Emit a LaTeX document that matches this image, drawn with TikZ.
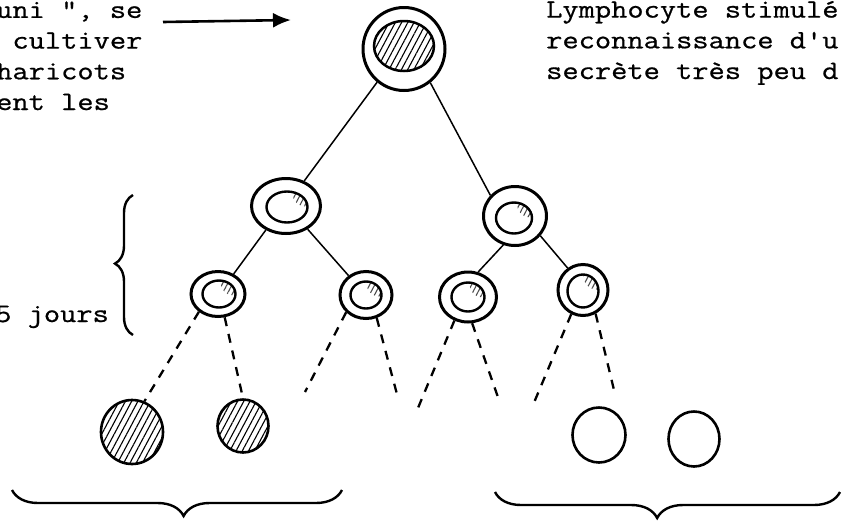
\documentclass[tikz,border=0pt]{standalone}
\usepackage{fontspec}
\setmonofont{Latin Modern Mono}[FakeStretch=1.19,FakeBold=0.7]
\usetikzlibrary{arrows.meta,shapes.geometric,patterns.meta,decorations.pathreplacing}

\begin{document}
\begin{tikzpicture}[x=1pt,y=-1pt,
  cellule/.style={draw,ellipse,line width=3pt,inner sep=0pt},
  noyau/.style={draw,ellipse,line width=2.4pt,inner sep=0pt,
    path picture={\fill[pattern={Lines[angle=62,distance=4.5pt,line width=1.1pt]},pattern color=black!70]
      ([xshift=-2pt,yshift=-2pt]path picture bounding box.north east) circle (13pt);}},
  hachure/.style={pattern={Lines[angle=62,distance=5.5pt,line width=1.1pt]}},
  lien/.style={line width=1.5pt},
  pointille/.style={line width=2.3pt,dash pattern=on 9pt off 8pt},
  accolade/.style={decorate,line width=2.4pt},
  texte/.style={font=\ttfamily\fontsize{26.5pt}{30.7pt}\selectfont,align=left,inner sep=0pt}]
  \useasboundingbox (0,0) rectangle (844,520);

  % texte autour du schema (ancre sur la derniere ligne)
  \node[texte,anchor=base west] (gauche) at (-4,110) {uni ", se\\\phantom{c}cultiver\\haricots\\ent les};
  \node[texte,anchor=base west] (droite) at (546,79) {Lymphocyte stimulé\\reconnaissance d'u\\secrète très peu d};
  \node[texte,anchor=base west] (duree) at (-5,322) {5 jours};

  \coordinate (f0) at (163,22);
  \coordinate (f1) at (291,20);
  \draw[line width=2.6pt,-{Latex[length=18pt,width=15pt]}] (f0) -- (f1);

  % lymphocyte de depart
  \node[cellule,minimum width=82pt,minimum height=83pt] (c0) at (404,49) {};
  \node[draw,ellipse,line width=2.5pt,inner sep=0pt,hachure,minimum width=60pt,minimum height=50pt] (n0) at (404,46) {};

  % deux divisions
  \node[cellule,minimum width=69pt,minimum height=55pt] (c1) at (286,206) {};
  \node[noyau,minimum width=41pt,minimum height=31pt] (n1) at (287,207) {};
  \node[cellule,minimum width=63pt,minimum height=59pt] (c2) at (515,216) {};
  \node[noyau,minimum width=36pt,minimum height=31pt] (n2) at (514,218) {};

  \node[cellule,minimum width=54pt,minimum height=45pt] (c11) at (218,294) {};
  \node[noyau,minimum width=33pt,minimum height=27pt] (n11) at (219,294) {};
  \node[cellule,minimum width=52pt,minimum height=47pt] (c12) at (366,295) {};
  \node[noyau,minimum width=31pt,minimum height=27pt] (n12) at (366,295) {};
  \node[cellule,minimum width=57pt,minimum height=50pt] (c21) at (468,297) {};
  \node[noyau,minimum width=33pt,minimum height=29pt] (n21) at (468,297) {};
  \node[cellule,minimum width=50pt,minimum height=51pt] (c22) at (583,290) {};
  \node[noyau,minimum width=31pt,minimum height=33pt] (n22) at (583,291) {};

  \draw[lien] (c0.231) -- (c1.54);
  \draw[lien] (c0.308) -- (c2.140);
  \draw[lien] (c1.230) -- (c11.52);
  \draw[lien] (c1.313) -- (c12.132);
  \draw[lien] (c2.248) -- (c21.68);
  \draw[lien] (c2.322) -- (c22.125);

  % cellules filles
  \node[draw,ellipse,line width=2.6pt,hachure,minimum width=62pt,minimum height=64pt] (d1) at (132,432) {};
  \node[draw,ellipse,line width=2.6pt,hachure,minimum width=51pt,minimum height=53pt] (d2) at (243,426) {};
  \node[draw,ellipse,line width=2.6pt,minimum width=53pt,minimum height=55pt] (d3) at (599,435) {};
  \node[draw,ellipse,line width=2.6pt,minimum width=51pt,minimum height=55pt] (d4) at (694,439) {};

  \coordinate (p1) at (305,392);
  \coordinate (p2) at (398,398);
  \coordinate (p3) at (418,408);
  \coordinate (p4) at (500,403);
  \coordinate (p5) at (533,405);
  \coordinate (p6) at (614,390);
  \draw[pointille] (c11.223) -- (d1.68);
  \draw[pointille] (c11.286) -- (d2.north);
  \draw[pointille] (c12.221) -- (p1);
  \draw[pointille] (c12.295) -- (p2);
  \draw[pointille] (c21.240) -- (p3);
  \draw[pointille] (c21.279) -- (p4);
  \draw[pointille] (c22.244) -- (p5);
  \draw[pointille] (c22.298) -- (p6);

  % accolades
  \draw[accolade,decoration={brace,amplitude=18pt,aspect=0.51}] (133,335) -- (133,195);
  \draw[accolade,decoration={brace,amplitude=26pt,aspect=0.48}] (342,490) -- (12,490);
  \draw[accolade,decoration={brace,amplitude=26pt,aspect=0.53}] (840,492) -- (495,492);
\end{tikzpicture}
\end{document}
